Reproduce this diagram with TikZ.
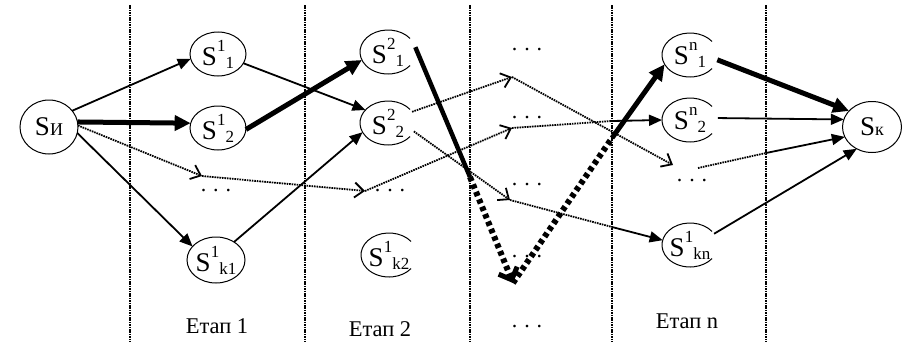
\documentclass[tikz,border=0pt]{standalone}
\usepackage{fontspec}
\setmainfont{Liberation Serif}
\usetikzlibrary{arrows.meta,shapes.geometric}
\newcommand\svx[2]{S\raisebox{14pt}{\fontsize{17}{17}\selectfont #1}\raisebox{-3pt}{\fontsize{17}{17}\selectfont #2}}
\newcommand\dotsx{.\hspace{7pt}.\hspace{7pt}.}
\begin{document}
\begin{tikzpicture}[x=1pt,y=-1pt,
  st/.style={ellipse, minimum width=56pt, minimum height=44pt, inner sep=0pt, outer sep=0pt},
  cl/.style={st, draw, line width=1pt},
  tx/.style={inner sep=0pt, font=\rmfamily\fontsize{27}{27}\selectfont},
  dt/.style={inner sep=0pt, font=\rmfamily\fontsize{22}{22}\selectfont},
  lb/.style={inner sep=0pt, anchor=base, font=\rmfamily\fontsize{22.5}{22.5}\selectfont},
  divider/.style={line width=2.2pt, dash pattern=on 1.6pt off 0.8pt},
  ar/.style={line width=1.8pt, -{Triangle[length=13pt,width=11pt]}},
  thk/.style={line width=5pt, -{Triangle[length=16pt,width=15pt]}},
  dl/.style={line width=1.8pt, dash pattern=on 1.6pt off 0.9pt},
  dla/.style={dl, -{Straight Barb[length=9pt,width=15pt,line width=1.8pt]}},
  hd/.style={line width=6pt, dash pattern=on 4.5pt off 3.5pt},
  hda/.style={hd, -{Straight Barb[length=10pt,width=20pt,line width=5pt]}}
]
\useasboundingbox (0,0) rectangle (908,348);
% stage dividers
\foreach \xx in {130,305,470,612,766}
  \draw[divider] (\xx,5) -- (\xx,342);

% state nodes
\node[cl, minimum width=58pt, minimum height=54pt] (SI) at (49,127) {};
\node[tx] (SIt) at (SI) {S{\fontsize{18}{18}\selectfont И}};
\node[cl] (A11) at (218,54) {};
\node[tx] (A11t) at (A11) {\svx{1}{1}};
\node[cl] (A12) at (218,128) {};
\node[tx] (A12t) at (A12) {\svx{1}{2}};
\node[cl, minimum width=58pt, minimum height=46pt] (A1k) at (216,260) {};
\node[tx] (A1kt) at (A1k) {\svx{1}{k1}};
\node[st] (A21) at (388,52) {};
\node[tx] (A21t) at (A21) {\svx{2}{1}};
\node[st] (A22) at (388,123) {};
\node[tx] (A22t) at (A22) {\svx{2}{2}};
\node[st] (A2k) at (389,255) {};
\node[tx] (A2kt) at (A2k) {\svx{1}{k2}};
\node[st] (An1) at (690,55) {};
\node[tx] (An1t) at (An1) {\svx{n}{1}};
\node[st] (An2) at (690,120) {};
\node[tx] (An2t) at (An2) {\svx{n}{2}};
\node[st] (Ank) at (690,245) {};
\node[tx] (Ankt) at (Ank) {\svx{1}{kn}};
\node[cl, minimum width=59pt, minimum height=51pt] (SK) at (872,127) {};
\node[tx] (SKt) at (SK) {S{\fontsize{18}{18}\selectfont к}};

% open ellipses
\foreach \nn in {A21,A22,A2k,An1,An2,Ank}
  \draw[line width=1pt] ([shift={(38:28pt and 22pt)}]\nn.center)
     arc[start angle=38, end angle=322, x radius=28pt, y radius=22pt];

% dots
\node[dt] (D1) at (216,191) {\dotsx};
\node[dt] (D2) at (390,191) {\dotsx};
\node[dt] (C31) at (527,50) {\dotsx};
\node[dt] (C32) at (527,118) {\dotsx};
\node[dt] (C33) at (527,185) {\dotsx};
\node[dt] (C34) at (527,257) {\dotsx};
\node[dt] (C35) at (527,327) {\dotsx};
\node[dt] (Dn) at (692,181) {\dotsx};

% stage labels
\node[lb] (L1) at (217,333) {Етап 1};
\node[lb] (L2) at (380,336) {Етап 2};
\node[lb] (Ln) at (687,328) {Етап n};

% free ends / breakpoints
\coordinate (Q1) at (202,176);
\coordinate (Q2) at (365,191);
\coordinate (P1) at (512,77);
\coordinate (P2) at (512,128);
\coordinate (P3) at (510,200);
\coordinate (R) at (673,165);
\coordinate (R2) at (698,168);
\coordinate (Y2) at (612,121);
\coordinate (Y3) at (612,227);
\coordinate (Y4) at (766,153);
\coordinate (X1) at (470,177);
\coordinate (B) at (513,283);
\coordinate (X2) at (612,138);

% connectors
\draw[ar] (SI.35) -- (A11.190);
\draw[thk] (SI.10) -- (A12.170);
\draw[dla] (SI.3) -- (Q1);
\draw[ar] (SI.-12) -- (A1k.150);
\draw[ar] (A11.-20) -- (A22.150);
\draw[thk] (A12.-3) -- (A21.197);
\draw[ar] (A1k.45) -- (A22.200);
\draw[dla] (Q1) -- (Q2);
\draw[dla] (Q2) -- (P2);
\draw[dla] (A22.25) -- (P1);
\draw[dla] (A22.-18) -- (P3);
\draw[dla] (P1) -- (R);
\draw[dl] (P2) -- (Y2);
\draw[ar] (Y2) -- (An2.180);
\draw[dl] (P3) -- (Y3);
\draw[ar] (Y3) -- (Ank.170);
\draw[line width=4.5pt] (A21.10) -- (X1);
\draw[hda] (X1) -- (B);
\draw[hd] (B) -- (X2);
\draw[thk] (X2) -- (An1.200);
\draw[dl] (R2) -- (Y4);
\draw[ar] (Y4) -- (SK.200);
\draw[thk] (An1.-10) -- (SK.145);
\draw[ar] (An2.4) -- (SK.165);
\draw[ar] (Ank.25) -- (SK.235);
\end{tikzpicture}
\end{document}
